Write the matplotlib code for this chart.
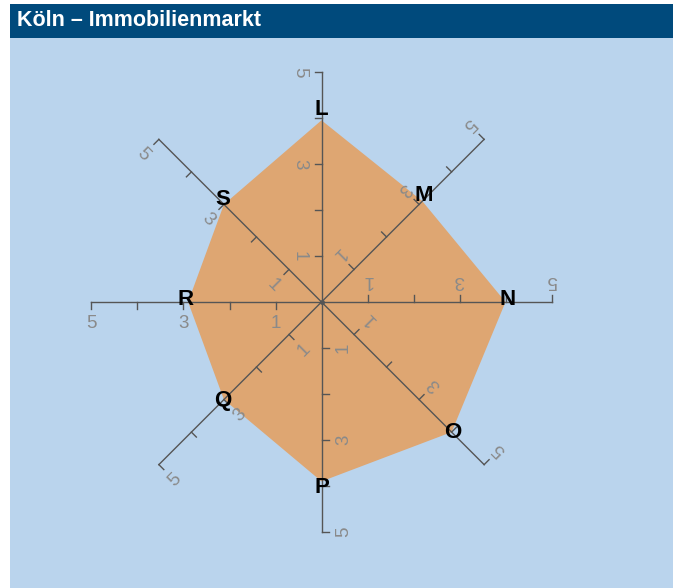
#!/usr/bin/env python3
# -*- coding: utf-8 -*-
"""
Köln – Immobilienmarkt: Netzdiagramm mit 8 Achsen
"""

import numpy as np
import matplotlib
matplotlib.use('Agg')
import matplotlib.pyplot as plt
from matplotlib.patches import Rectangle, Polygon

plt.rcParams['font.family'] = ['Liberation Sans', 'DejaVu Sans']

# Daten
titel = 'Köln – Immobilienmarkt'
achsen = ['L', 'M', 'N', 'O', 'P', 'Q', 'R', 'S']
werte = [3.95, 3.1, 4.0, 4.0, 3.9, 3.0, 2.9, 3.0]
ticks = [1, 2, 3, 4, 5]
tick_labels = {1: '1', 3: '3', 5: '5'}
r_max = 5

# Farben
HEADER = '#004a7c'
PANEL = '#bad4ed'
FLAECHE = '#dea672'
ACHSE = '#555555'
TICKTEXT = '#8a8a8a'

W, H = 682, 588
cx, cy = 321.5, 302.0   # Mittelpunkt in Pixel (von oben)
unit = 46.0             # Pixel pro Einheit

fig = plt.figure(figsize=(W / 100, H / 100), dpi=100)
fig.patch.set_facecolor('white')

# Hintergrund und Kopfzeile
fig.patches.append(Rectangle((10 / W, 0), 663 / W, (H - 38) / H,
                             transform=fig.transFigure, facecolor=PANEL,
                             edgecolor='none', zorder=-10))
fig.patches.append(Rectangle((10 / W, (H - 38) / H), 663 / W, 34 / H,
                             transform=fig.transFigure, facecolor=HEADER,
                             edgecolor='none', zorder=-10))
fig.text(17 / W, (H - 21) / H, titel, color='white', fontsize=15.5,
         fontweight='bold', ha='left', va='center')

ax = fig.add_axes([0, 0, 1, 1])
ax.set_xlim(-cx / unit, (W - cx) / unit)
ax.set_ylim(-(H - cy) / unit, cy / unit)
ax.axis('off')
ax.patch.set_alpha(0)

n = len(achsen)
winkel = np.deg2rad(90 - np.arange(n) * 360 / n)
werte = np.array(werte)

# Fläche
px = werte * np.cos(winkel)
py = werte * np.sin(winkel)
ax.add_patch(Polygon(np.column_stack([px, py]), closed=True,
                     facecolor=FLAECHE, edgecolor='none', zorder=1))

tick_len = 7 / unit
label_off = 22 / unit

for i, th in enumerate(winkel):
    c, s = np.cos(th), np.sin(th)
    # senkrechte Richtung (gegen den Uhrzeigersinn)
    nx, ny = -s, c
    ax.plot([0, r_max * c], [0, r_max * s], color=ACHSE, lw=1.0, zorder=2)
    rot = np.rad2deg(th) - 180
    for t in ticks:
        x0, y0 = t * c, t * s
        ax.plot([x0, x0 + tick_len * nx], [y0, y0 + tick_len * ny],
                color=ACHSE, lw=1.0, zorder=2)
        if t in tick_labels:
            ax.text(x0 + label_off * nx, y0 + label_off * ny, tick_labels[t],
                    color=TICKTEXT, fontsize=13.5, rotation=rot,
                    rotation_mode='anchor', ha='center', va='center', zorder=3)
    # Achsenbeschriftung an der Spitze
    lx = px[i] + 0.05 * c
    ly = py[i] + 0.19 * s ** 3 + 0.05
    ax.text(lx, ly, achsen[i], color='black', fontsize=16,
            fontweight='bold', ha='center', va='center', zorder=4)

ax.plot(0, 0, 'o', color=ACHSE, ms=2.5, zorder=2)

plt.savefig('out.png', dpi=100)
plt.close()
